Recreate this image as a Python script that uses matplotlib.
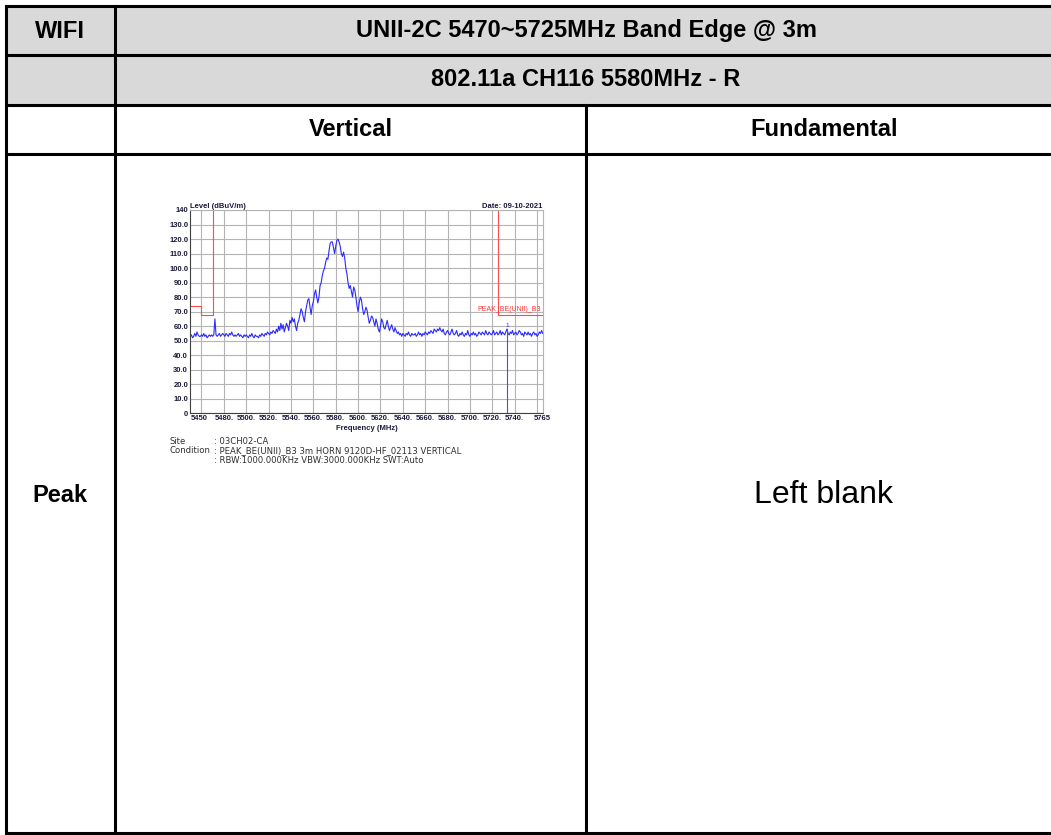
import numpy as np
import matplotlib
matplotlib.use("Agg")
import matplotlib.pyplot as plt
from matplotlib.patches import Rectangle

# table texts
title = "UNII-2C 5470~5725MHz Band Edge @ 3m"
subtitle = "802.11a CH116 5580MHz - R"
col_heads = ["Vertical", "Fundamental"]
row_head = "Peak"
blank_text = "Left blank"

# spectrum trace, 1 MHz sweep from 5450 MHz (dBuV/m)
f_start = 5450
level = [
    53, 54, 52, 53, 55, 53, 56, 54, 53, 53, 54, 53, 55, 53, 54, 52, 53, 54, 53, 54,
    53, 54, 65, 54, 53, 54, 55, 53, 54, 55, 54, 53, 55, 54, 53, 55, 54, 56, 54, 53,
    54, 53, 54, 55, 53, 54, 53, 52, 54, 53, 54, 53, 52, 54, 53, 55, 53, 52, 54, 53,
    53, 52, 54, 53, 55, 54, 53, 55, 54, 56, 55, 54, 56, 55, 57, 56, 55, 58, 56, 60,
    57, 62, 58, 61, 56, 59, 62, 60, 57, 64, 62, 66, 63, 65, 60, 57, 62, 64, 68, 72,
    70, 66, 63, 70, 74, 78, 79, 73, 68, 74, 77, 82, 85, 80, 76, 80, 88, 90, 95, 98,
    100, 104, 107, 106, 112, 117, 118, 118, 114, 110, 115, 119, 120, 118, 115, 110, 108, 111, 107, 100,
    96, 90, 86, 88, 84, 80, 87, 85, 80, 74, 70, 76, 80, 78, 72, 68, 70, 73, 71, 66,
    62, 64, 67, 66, 63, 60, 65, 62, 58, 56, 60, 65, 63, 59, 58, 61, 64, 60, 57, 59,
    61, 58, 56, 59, 57, 55, 56, 54, 55, 53, 55, 54, 53, 55, 54, 56, 54, 53, 55, 54,
    54, 55, 53, 54, 56, 54, 55, 53, 55, 54, 56, 55, 54, 56, 55, 57, 56, 55, 58, 57,
    56, 58, 57, 59, 57, 56, 58, 55, 54, 56, 57, 55, 54, 56, 58, 55, 54, 55, 57, 54,
    53, 55, 54, 56, 54, 53, 55, 54, 57, 54, 53, 55, 54, 56, 54, 55, 53, 54, 56, 55,
    54, 56, 55, 54, 57, 55, 54, 56, 55, 54, 55, 57, 54, 55, 56, 54, 55, 57, 54, 56,
    55, 54, 56, 58, 55, 54, 56, 55, 57, 54, 55, 56, 54, 55, 57, 56, 54, 55, 53, 56,
    55, 54, 56, 54, 55, 53, 55, 56, 54, 55, 53, 54, 56, 55, 57, 55,
]
freq = np.arange(f_start, f_start + len(level))

# limit line (left and right band edges)
lim_left_f = [5450, 5460, 5460, 5470, 5470]
lim_left_v = [74, 74, 68, 68, 140]
lim_right_f = [5725, 5725, 5765]
lim_right_v = [140, 68, 68]
lim_name = "PEAK_BE(UNII)_B3"

marker_f = 5733
marker_v = 60

xtick_vals = [5450, 5480, 5500, 5520, 5540, 5560, 5580, 5600, 5620, 5640,
              5660, 5680, 5700, 5720, 5740, 5765]
xtick_labels = ["5450", "5480.", "5500.", "5520.", "5540.", "5560.", "5580.",
                "5600.", "5620.", "5640.", "5660.", "5680.", "5700.", "5720.",
                "5740.", "5765"]
xgrid_vals = [5460, 5480, 5500, 5520, 5540, 5560, 5580, 5600, 5620, 5640,
              5660, 5680, 5700, 5720, 5740, 5760]
ytick_vals = list(range(0, 141, 10))
ytick_labels = ["0"] + [f"{v:.1f}" for v in range(10, 140, 10)] + ["140"]

info_keys = ["Site", "Condition", ""]
info_vals = [": 03CH02-CA",
             ": PEAK_BE(UNII)_B3 3m HORN 9120D-HF_02113 VERTICAL",
             ": RBW:1000.000KHz VBW:3000.000KHz SWT:Auto"]

W, H = 1051, 835
fig = plt.figure(figsize=(W / 100, H / 100), dpi=100)

# table layer in pixel coordinates
tab = fig.add_axes([0, 0, 1, 1])
tab.set_xlim(0, W)
tab.set_ylim(H, 0)
tab.axis("off")

tab.add_patch(Rectangle((6, 6), W, 99, facecolor="#d9d9d9", edgecolor="none"))
lw = 2.2
for y in [6, 55, 105, 154, 833]:
    tab.plot([6, W], [y, y], color="black", lw=lw, solid_capstyle="butt")
tab.plot([6, 6], [6, 833], color="black", lw=lw)
tab.plot([115, 115], [6, 833], color="black", lw=lw)
tab.plot([586, 586], [105, 833], color="black", lw=lw)

bold = dict(family="Liberation Sans", weight="bold", fontsize=17,
            ha="center", va="center")
tab.text(60, 31, "WIFI", **bold)
tab.text(586, 31, title, **bold)
tab.text(586, 80, subtitle, **bold)
tab.text(351, 130, col_heads[0], **bold)
tab.text(824, 130, col_heads[1], **bold)
tab.text(60, 495, row_head, **bold)
tab.text(824, 495, blank_text, family="Liberation Sans", fontsize=23,
         ha="center", va="center")

# spectrum plot
ax = fig.add_axes([190.3 / W, 1 - 413.3 / H, 352.4 / W, 203.3 / H])
ax.set_xlim(5450, 5765)
ax.set_ylim(0, 140)

tick_color = "#1a1a3a"
grid_color = "#b4b4b4"
ax.set_xticks(xtick_vals)
ax.set_xticklabels(xtick_labels, fontsize=5.5, fontweight="bold",
                   color=tick_color, family="Liberation Sans")
ax.get_xticklabels()[0].set_ha("left")
ax.set_yticks(ytick_vals)
ax.set_yticklabels(ytick_labels, fontsize=5.5, fontweight="bold",
                   color=tick_color, family="Liberation Sans")
ax.tick_params(which="both", length=0, pad=1.5)
ax.grid(True, which="major", axis="y", color=grid_color, lw=0.8)
for xg in xgrid_vals:
    ax.axvline(xg, color=grid_color, lw=0.8, zorder=0.5)
for s in ax.spines.values():
    s.set_color(grid_color)
    s.set_linewidth(0.8)
ax.spines["left"].set_color("#404040")
ax.spines["bottom"].set_color("#404040")

ax.plot(freq, level, color="#2a2aff", lw=0.8)
ax.plot(lim_left_f, lim_left_v, color="#ff4a4a", lw=0.8)
ax.plot(lim_right_f, lim_right_v, color="#ff4a4a", lw=0.8)
ax.text(5763, 69, lim_name, color="#ff3030", fontsize=5,
        ha="right", va="bottom", family="Liberation Sans")
ax.plot([marker_f, marker_f], [0, marker_v - 2], color="#4a4aff", lw=0.8)
ax.text(marker_f, marker_v - 1, "1", color="#2a2aff", fontsize=4.5,
        ha="center", va="bottom", family="Liberation Sans")

ax.text(0, 1.0, "Level (dBuV/m)", transform=ax.transAxes, fontsize=5.5,
        fontweight="bold", color=tick_color, ha="left", va="bottom",
        family="Liberation Sans")
ax.text(1.0, 1.0, "Date: 09-10-2021", transform=ax.transAxes, fontsize=5.5,
        fontweight="bold", color=tick_color, ha="right", va="bottom",
        family="Liberation Sans")
ax.text(0.5, -0.06, "Frequency (MHz)", transform=ax.transAxes, fontsize=5.5,
        fontweight="bold", color=tick_color, ha="center", va="top",
        family="Liberation Sans")

# site / condition block
for i, (k, v) in enumerate(zip(info_keys, info_vals)):
    y = 441 + i * 9.7
    tab.text(170, y, k, fontsize=6.1, color="#303030", va="center", ha="left")
    tab.text(214, y, v, fontsize=6.1, color="#303030", va="center", ha="left")

fig.savefig("out.png", dpi=100)
